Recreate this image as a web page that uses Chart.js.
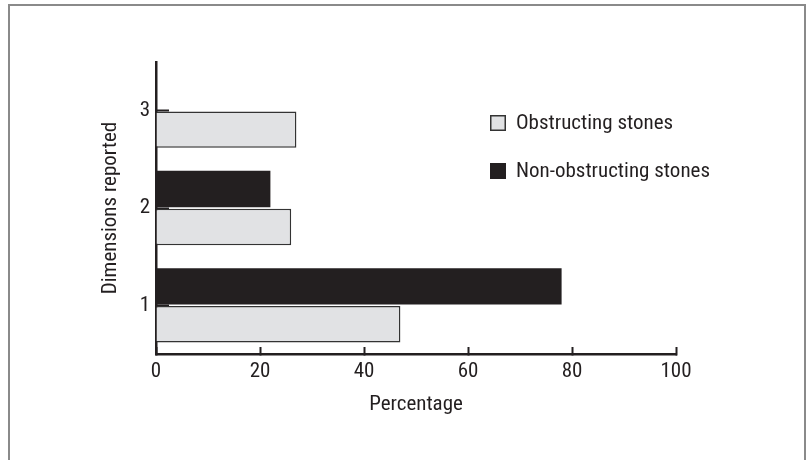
<!DOCTYPE html>
<html>
<head>
<meta charset="utf-8">
<script src="https://cdn.jsdelivr.net/npm/chart.js@4/dist/chart.umd.min.js"></script>
<style>
  html, body { margin: 0; padding: 0; background: #fff; }
  #wrap { position: relative; width: 811px; height: 460px; overflow: hidden; }
  #frame { position: absolute; left: 8px; top: 4px; width: 794px; height: 500px;
           border: 2.5px solid #8a8a8a; border-bottom: none; }
  canvas { position: absolute; left: 0; top: 0; }
</style>
</head>
<body>
<div id="wrap">
  <div id="frame"></div>
  <canvas id="myChart" width="811" height="460"></canvas>
</div>
<script>
// data
var categories = ['1', '2', '3'];
var obstructing = [47, 26, 27];
var nonObstructing = [78, 22, 0];
var xTicks = [0, 20, 40, 60, 80, 100];

var ink = '#231f20';
var fam = "'Liberation Sans Narrow', 'Arial Narrow', 'Noto Sans Condensed', 'Roboto Condensed', 'DejaVu Sans Condensed', sans-serif";
Chart.defaults.font.family = fam;
Chart.defaults.font.size = 21;
Chart.defaults.color = ink;

// legend drawn inside the plot, obstructing first
var boxLegend = {
    id: 'boxLegend',
    afterDraw: function(chart) {
        var c = chart.ctx;
        var items = [chart.data.datasets[1], chart.data.datasets[0]];
        var rowY = [123, 171];
        c.save();
        c.font = '21px ' + fam;
        c.textBaseline = 'middle';
        for (var i = 0; i < items.length; i++) {
            var ds = items[i];
            c.fillStyle = ds.backgroundColor;
            c.fillRect(490, rowY[i] - 8, 16, 16);
            c.lineWidth = 1.5;
            c.strokeStyle = ds.borderWidth ? ds.borderColor : ds.backgroundColor;
            c.strokeRect(490.75, rowY[i] - 7.25, 14.5, 14.5);
            c.fillStyle = ink;
            c.fillText(ds.label, 516, rowY[i] + 1);
        }
        c.restore();
    }
};

var ctx = document.getElementById('myChart').getContext('2d');

var graphData = {
    type: 'bar',
    data: {
        labels: categories,
        datasets: [{
            label: 'Non-obstructing stones',
            data: nonObstructing,
            backgroundColor: ink,
            borderWidth: 0
        }, {
            label: 'Obstructing stones',
            data: obstructing,
            backgroundColor: '#e1e2e4',
            borderColor: '#333',
            borderWidth: 1.5
        }]
    },
    options: {
        indexAxis: 'y',
        responsive: false,
        animation: false,
        categoryPercentage: 0.78,
        barPercentage: 0.96,
        layout: { padding: { top: 62, right: 135, left: 0, bottom: 0 } },
        plugins: {
            legend: { display: false },
            tooltip: { enabled: false }
        },
        scales: {
            x: {
                min: 0,
                max: 100,
                afterBuildTicks: function(s) { s.ticks = xTicks.map(function(v) { return { value: v }; }); },
                afterFit: function(s) { s.height = 106; },
                grid: { drawOnChartArea: false, tickLength: -7, tickWidth: 2, color: ink },
                border: { color: ink, width: 2.5 },
                ticks: { padding: 12, color: ink, maxRotation: 0 },
                title: { display: true, text: 'Percentage', color: ink, font: { size: 21 }, padding: { top: 0, bottom: 43 } }
            },
            y: {
                reverse: true,
                z: 1,
                afterFit: function(s) { s.width = 156; },
                grid: { offset: false, drawOnChartArea: false, tickLength: -13, tickWidth: 2, color: ink },
                border: { color: ink, width: 2.5 },
                ticks: { padding: 19, color: ink },
                title: { display: true, text: 'Dimensions reported', color: ink, font: { size: 21 }, padding: { top: 98, bottom: 0 } }
            }
        }
    },
    plugins: [boxLegend]
};
var myChart = new Chart(ctx, graphData);
</script>
</body>
</html>
